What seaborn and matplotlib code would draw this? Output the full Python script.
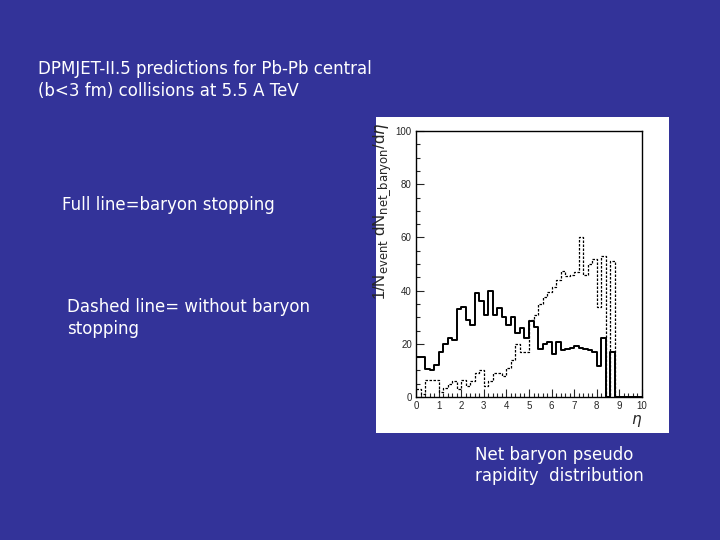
import numpy as np
import pandas as pd
import matplotlib
matplotlib.use("Agg")
import matplotlib.pyplot as plt
import seaborn as sns
from matplotlib.patches import Rectangle
from matplotlib.ticker import MultipleLocator

sns.set_style("ticks")
plt.rcParams['font.family'] = ['DejaVu Sans']

# pseudorapidity bins, width 0.2 from 0 to 10
bin_centers = np.round(np.arange(0.1, 10.0, 0.2), 2)

# full line = baryon stopping
with_stopping = [15, 15, 10.5, 10, 12, 17, 20, 22, 21.5, 33,
                 34, 29, 27, 39, 36, 31, 40, 31, 33.5, 30,
                 27, 30, 24, 26, 22, 28.5, 26.5, 18, 20, 20.5,
                 16, 20.5, 17.5, 18, 18.5, 19, 18.5, 18, 17.5, 17,
                 11.5, 22, 0, 17, 0, 0, 0, 0, 0, 0]

# dashed line = without baryon stopping
without_stopping = [3, 1, 6.5, 6.5, 6.5, 2, 3.5, 5, 6, 3,
                    6.5, 4, 6, 9, 10, 4, 6, 9, 9, 8,
                    11, 14, 20, 17, 17, 29, 31, 35, 37.5, 39.5,
                    41.5, 44, 47.5, 45.5, 46, 47, 60, 46, 50, 52,
                    34, 53, 0, 51, 0, 0, 0, 0, 0, 0]

df = pd.DataFrame({'eta': bin_centers,
                   'stop': with_stopping,
                   'nostop': without_stopping})

fig = plt.figure(figsize=(7.2, 5.4), dpi=100, facecolor='#333399')

# white panel behind the inset histogram
fig.patches.append(Rectangle((376 / 720, 1 - 433 / 540), 293 / 720, 316 / 540,
                             transform=fig.transFigure, facecolor='white',
                             edgecolor='none', zorder=-1))

ax = fig.add_axes([416 / 720, 1 - 397 / 540, 226 / 720, 266 / 540])
ax.set_zorder(2)
ax.set_facecolor('white')

sns.histplot(data=df, x='eta', weights='stop', binwidth=0.2, binrange=(0, 10),
             element='step', fill=False, color='black', linewidth=1.4, ax=ax)
sns.histplot(data=df, x='eta', weights='nostop', binwidth=0.2, binrange=(0, 10),
             element='step', fill=False, color='black', linewidth=0.9,
             linestyle=(0, (2, 1.2)), ax=ax)

ax.set_xlim(0, 10)
ax.set_ylim(0, 100)
ax.xaxis.set_major_locator(MultipleLocator(1))
ax.xaxis.set_minor_locator(MultipleLocator(0.2))
ax.yaxis.set_major_locator(MultipleLocator(20))
ax.yaxis.set_minor_locator(MultipleLocator(5))
ax.tick_params(which='both', direction='in', top=False, right=False,
               labelsize=7, pad=3, width=0.8)
ax.tick_params(which='major', length=6)
ax.tick_params(which='minor', length=3)
for lab in ax.get_xticklabels() + ax.get_yticklabels():
    lab.set_family('Liberation Sans')
for s in ax.spines.values():
    s.set_linewidth(1.0)
    s.set_color('black')

ax.set_xlabel('')
ax.set_ylabel(r'1/N$_{\rm event}$ dN$_{\rm net\_baryon}$/d$\eta$',
              fontsize=12, family='Liberation Sans')
ax.yaxis.set_label_coords(-0.10, 0.70)
ax.text(0.975, -0.09, r'$\eta$', transform=ax.transAxes, fontsize=11,
        ha='center', va='center')

# slide text
txt = dict(color='white', fontsize=12, ha='left', va='center')
fig.text(38 / 720, 1 - 69 / 540, 'DPMJET-II.5 predictions for Pb-Pb central', **txt)
fig.text(38 / 720, 1 - 91 / 540, '(b<3 fm) collisions at 5.5 A TeV', **txt)
fig.text(62 / 720, 1 - 205 / 540, 'Full line=baryon stopping', **txt)
fig.text(67 / 720, 1 - 307 / 540, 'Dashed line= without baryon', **txt)
fig.text(67 / 720, 1 - 329 / 540, 'stopping', **txt)
fig.text(475 / 720, 1 - 455 / 540, 'Net baryon pseudo', **txt)
fig.text(475 / 720, 1 - 476 / 540, 'rapidity  distribution', **txt)

fig.savefig('out.png', dpi=100, facecolor=fig.get_facecolor())
